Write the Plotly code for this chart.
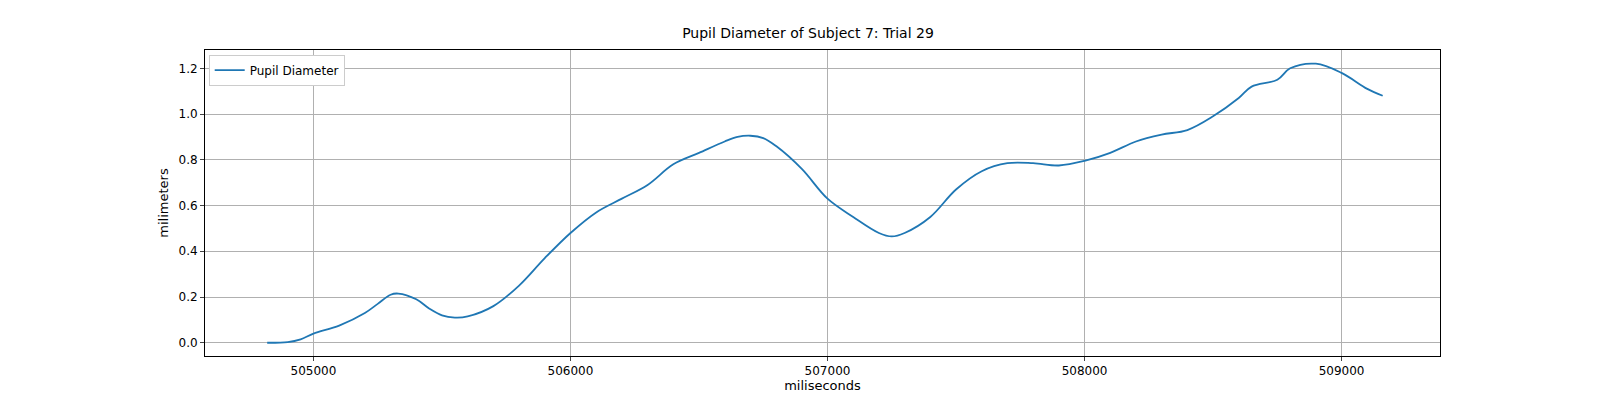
import plotly.graph_objects as go

time_ms = [504820, 504900, 504950, 505000, 505100, 505200, 505250, 505300, 505330, 505400,
           505450, 505500, 505550, 505600, 505700, 505800, 505900, 506000, 506100, 506200,
           506300, 506400, 506500, 506600, 506650, 506700, 506750, 506800, 506900, 507000,
           507100, 507200, 507250, 507300, 507400, 507500, 507600, 507700, 507800, 507900,
           508000, 508100, 508200, 508300, 508400, 508500, 508600, 508650, 508750, 508800,
           508900, 509000, 509100, 509160]
pupil_mm = [0.0, 0.003, 0.015, 0.04, 0.075, 0.13, 0.17, 0.21, 0.215, 0.19,
            0.15, 0.12, 0.11, 0.115, 0.16, 0.25, 0.37, 0.48, 0.57, 0.63,
            0.69, 0.78, 0.83, 0.88, 0.9, 0.905, 0.895, 0.86, 0.76, 0.63,
            0.55, 0.48, 0.465, 0.48, 0.55, 0.67, 0.75, 0.785, 0.785, 0.775,
            0.795, 0.83, 0.88, 0.91, 0.93, 0.99, 1.07, 1.12, 1.15, 1.2,
            1.22, 1.18, 1.11, 1.08]

fig = go.Figure()
fig.add_trace(go.Scatter(x=time_ms, y=pupil_mm, mode="lines", name="Pupil Diameter",
                         line=dict(color="#1f77b4", width=1.8, shape="spline")))

axis = dict(showline=True, linecolor="black", mirror=True, ticks="outside",
            ticklen=4, showgrid=True, gridcolor="#b0b0b0", zeroline=False,
            tickfont=dict(size=12, color="black"))
fig.update_layout(
    width=1600, height=400,
    margin=dict(l=197, r=168, t=42, b=52),
    plot_bgcolor="white", paper_bgcolor="white",
    font=dict(family="DejaVu Sans", size=12, color="black"),
    title=dict(text="Pupil Diameter of Subject 7: Trial 29", x=0.5, xanchor="center",
               y=0.925, yanchor="bottom", font=dict(size=14)),
    xaxis=dict(axis, range=[504578, 509383], tickvals=[505000, 506000, 507000, 508000, 509000],
               tickformat="d", title=dict(text="miliseconds", standoff=2, font=dict(size=13))),
    yaxis=dict(axis, range=[-0.058, 1.28], tickvals=[0, 0.2, 0.4, 0.6, 0.8, 1.0, 1.2],
               tickformat=".1f", title=dict(text="milimeters", standoff=6, font=dict(size=13))),
    showlegend=True,
    legend=dict(x=0.003, y=0.985, xanchor="left", yanchor="top", bgcolor="white",
                bordercolor="#cccccc", borderwidth=1, font=dict(size=12)),
)
fig.write_html("out.html")
